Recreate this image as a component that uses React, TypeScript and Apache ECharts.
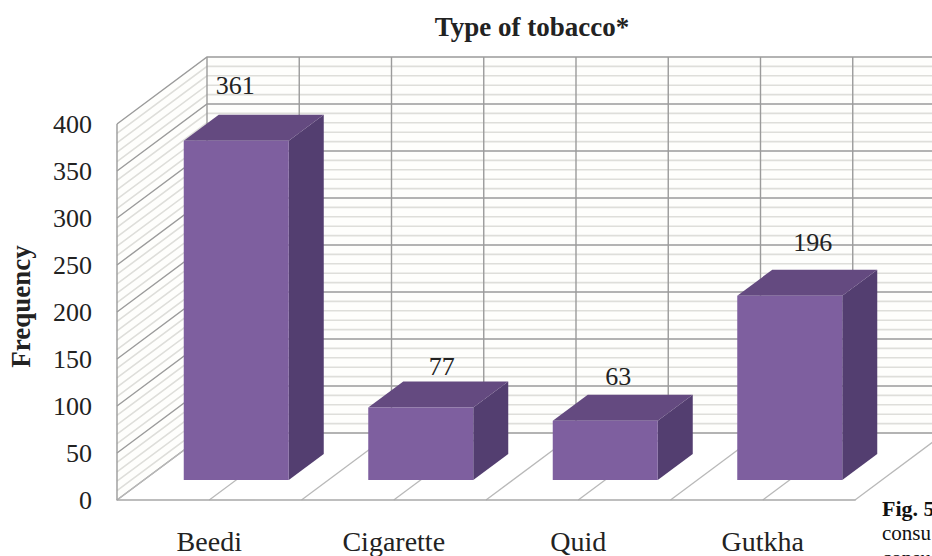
import React, { useEffect, useRef } from "react";
import * as echarts from "echarts";

const categories = ["Beedi", "Cigarette", "Quid", "Gutkha"];
const frequencies = [361, 77, 63, 196];
const valueTicks = [0, 50, 100, 150, 200, 250, 300, 350, 400];
const gridValues = [
  10, 20, 30, 40, 60, 70, 80, 90, 110, 120, 130, 140, 160, 170, 180, 190, 210, 220, 230, 240,
  260, 270, 280, 290, 310, 320, 330, 340, 360, 370, 380, 390,
];

// Oblique projection of the chart box: how far the back wall sits from the front plane.
const WALL_DX = 90;
const WALL_DY = 67;
// Bars stand part way into the box.
const BAR_FRONT_DX = 27;
const BAR_FRONT_DY = 20;
const BAR_DEPTH_DX = 35;
const BAR_DEPTH_DY = 26;
const BAR_WIDTH = 105;
// Hand placement of the value labels relative to the bar's back top edge centre.
const LABEL_SHIFT = [
  [-36, -29],
  [-14, -15],
  [-22, -18],
  [-12, -27],
];

const FONT = '"Liberation Serif", serif';
const MAJOR = "#9b9b9b";
const MINOR = "#dededa";
const FLOOR = "#b9b9b9";

function renderWallFill(_params: any, api: any) {
  const [xc, yBottom] = api.coord([0, 0]);
  const [, yTop] = api.coord([0, 400]);
  const band = api.size([1, 0])[0];
  const left = xc - band / 2;
  const right = left + band * categories.length;
  const fill = "#fefefc";
  return {
    type: "group",
    children: [
      {
        type: "polygon",
        shape: {
          points: [
            [left, yBottom],
            [left + WALL_DX, yBottom - WALL_DY],
            [left + WALL_DX, yTop - WALL_DY],
            [left, yTop],
          ],
        },
        style: { fill },
      },
      {
        type: "rect",
        shape: { x: left + WALL_DX, y: yTop - WALL_DY, width: right - left, height: yBottom - yTop },
        style: { fill },
      },
    ],
  };
}

function renderWallRule(_params: any, api: any) {
  const value = api.value(1);
  const [xc, y] = api.coord([0, value]);
  const band = api.size([1, 0])[0];
  const left = xc - band / 2;
  const right = left + band * categories.length;
  const major = value % 50 === 0;
  return {
    type: "polyline",
    z2: major ? 3 : 1,
    shape: {
      points: [
        [left, y],
        [left + WALL_DX, y - WALL_DY],
        [right + WALL_DX, y - WALL_DY],
      ],
    },
    style: { fill: "none", stroke: major ? MAJOR : MINOR, lineWidth: major ? 1.4 : 1.6 },
  };
}

function renderColumnRule(params: any, api: any) {
  const [xc, yBottom] = api.coord([params.dataIndex, 0]);
  const [, yTop] = api.coord([params.dataIndex, 400]);
  const band = api.size([1, 0])[0];
  const stops = [xc - band / 2, xc];
  if (params.dataIndex === categories.length - 1) stops.push(xc + band / 2);
  const children: any[] = [];
  stops.forEach((x) => {
    children.push({
      type: "line",
      shape: { x1: x, y1: yBottom, x2: x + WALL_DX, y2: yBottom - WALL_DY },
      style: { stroke: FLOOR, lineWidth: 1.3 },
    });
    children.push({
      type: "line",
      shape: { x1: x + WALL_DX, y1: yBottom - WALL_DY, x2: x + WALL_DX, y2: yTop - WALL_DY },
      style: { stroke: MAJOR, lineWidth: 1.4 },
    });
  });
  if (params.dataIndex === 0) {
    children.push({
      type: "line",
      shape: { x1: xc - band / 2, y1: yBottom, x2: xc - band / 2, y2: yTop },
      style: { stroke: MAJOR, lineWidth: 1.4 },
    });
  }
  return { type: "group", z2: 4, children };
}

function renderBar(params: any, api: any) {
  const i = params.dataIndex;
  const value = api.value(1);
  const [xc, yBase] = api.coord([i, 0]);
  const [, yValue] = api.coord([i, value]);
  const x0 = xc + BAR_FRONT_DX - BAR_WIDTH / 2;
  const x1 = x0 + BAR_WIDTH;
  const yb = yBase - BAR_FRONT_DY;
  const yt = yValue - BAR_FRONT_DY;
  const shift = LABEL_SHIFT[i];
  return {
    type: "group",
    children: [
      {
        type: "polygon",
        shape: {
          points: [
            [x1, yb],
            [x1 + BAR_DEPTH_DX, yb - BAR_DEPTH_DY],
            [x1 + BAR_DEPTH_DX, yt - BAR_DEPTH_DY],
            [x1, yt],
          ],
        },
        style: { fill: "#533e70" },
      },
      {
        type: "polygon",
        shape: {
          points: [
            [x0, yt],
            [x1, yt],
            [x1 + BAR_DEPTH_DX, yt - BAR_DEPTH_DY],
            [x0 + BAR_DEPTH_DX, yt - BAR_DEPTH_DY],
          ],
        },
        style: { fill: "#644a80" },
      },
      {
        type: "rect",
        shape: { x: x0, y: yt, width: BAR_WIDTH, height: yb - yt },
        style: { fill: "#7e5f9f" },
      },
      {
        type: "text",
        x: (x0 + x1 + BAR_DEPTH_DX * 2) / 2 + shift[0],
        y: yt - BAR_DEPTH_DY + shift[1],
        style: {
          text: String(value),
          font: `26px ${FONT}`,
          fill: "#222222",
          align: "center",
          verticalAlign: "middle",
        },
      },
    ],
  };
}

export default function App() {
  const ref = useRef<HTMLDivElement>(null);

  useEffect(() => {
    const chart = echarts.init(ref.current as HTMLDivElement, undefined, { renderer: "svg" });
    chart.setOption({
      animation: false,
      backgroundColor: "#ffffff",
      title: {
        text: "Type of tobacco*",
        left: 527,
        top: 8,
        textAlign: "center",
        textStyle: { fontFamily: FONT, fontWeight: "bold", fontSize: 27, color: "#222222" },
      },
      grid: { left: 117, right: 77, top: 124, bottom: 56, outerBoundsMode: "none" },
      xAxis: {
        type: "category",
        data: categories,
        axisLine: { show: true, lineStyle: { color: "#a8a8a8", width: 1.6 } },
        axisTick: { show: false },
        splitLine: { show: false },
        axisLabel: { fontFamily: FONT, fontSize: 28, color: "#222222", margin: 27 },
        z: 5,
      },
      yAxis: {
        type: "value",
        min: valueTicks[0],
        max: valueTicks[valueTicks.length - 1],
        interval: valueTicks[1] - valueTicks[0],
        name: "Frequency",
        nameLocation: "middle",
        nameGap: 83,
        nameRotate: 90,
        nameTextStyle: {
          fontFamily: FONT,
          fontWeight: "bold",
          fontSize: 27,
          color: "#222222",
          padding: [0, 0, 0, 11],
        },
        axisLine: { show: false },
        axisTick: { show: false },
        splitLine: { show: false },
        axisLabel: { fontFamily: FONT, fontSize: 26, color: "#222222", margin: 25 },
      },
      graphic: [
        { type: "text", x: 882, y: 497, style: { text: "Fig. 5", font: `bold 22px ${FONT}`, fill: "#111111" } },
        { type: "text", x: 882, y: 522, style: { text: "consu", font: `21px ${FONT}`, fill: "#111111" } },
        { type: "text", x: 882, y: 547, style: { text: "consu", font: `21px ${FONT}`, fill: "#111111" } },
      ],
      series: [
        { type: "custom", renderItem: renderWallFill, data: [[0, 0]], z: 1, silent: true },
        {
          type: "custom",
          renderItem: renderWallRule,
          data: gridValues.map((v) => [0, v]),
          z: 2,
          silent: true,
        },
        {
          type: "custom",
          renderItem: renderWallRule,
          data: valueTicks.map((v) => [0, v]),
          z: 3,
          silent: true,
        },
        {
          type: "custom",
          renderItem: renderColumnRule,
          data: categories.map((_c, i) => [i, 0]),
          z: 4,
          silent: true,
        },
        {
          type: "custom",
          renderItem: renderBar,
          data: frequencies.map((v, i) => [i, v]),
          z: 6,
          silent: true,
        },
      ],
    });
    return () => chart.dispose();
  }, []);

  return <div ref={ref} style={{ position: "absolute", left: 0, top: 0, width: 932, height: 556 }} />;
}
